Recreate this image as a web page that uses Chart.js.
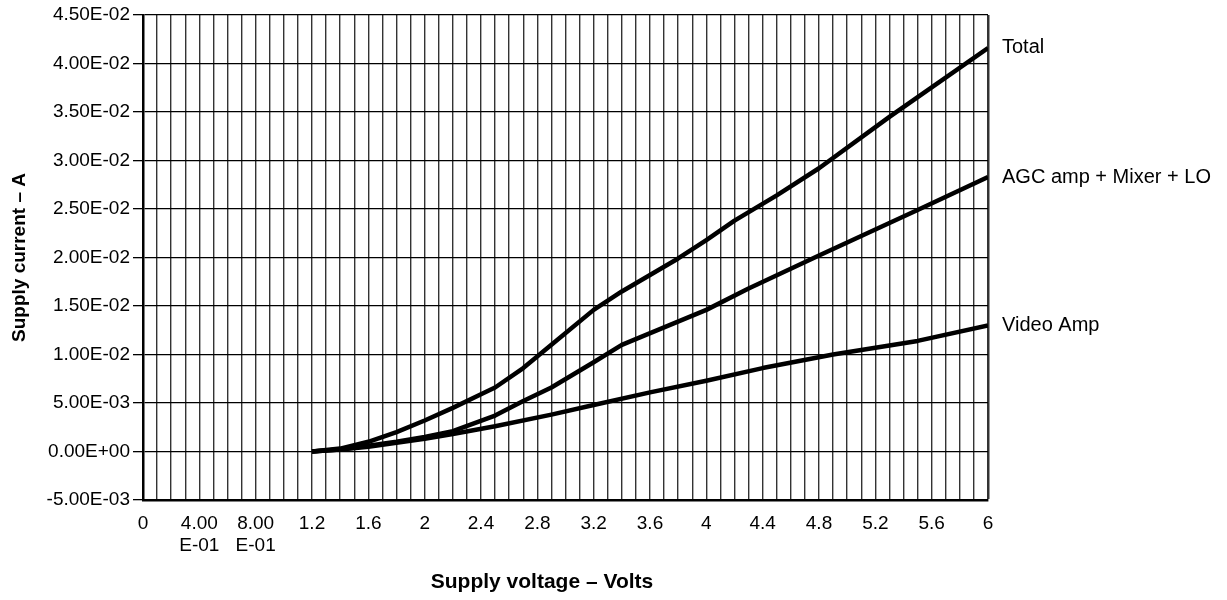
<!DOCTYPE html>
<html>
<head>
<meta charset="utf-8">
<title>Supply current vs supply voltage</title>
<script src="https://cdn.jsdelivr.net/npm/chart.js@4.4.1/dist/chart.umd.min.js"></script>
<style>
  html, body { margin: 0; padding: 0; background: #fff; }
  #wrap { width: 1227px; height: 600px; }
</style>
</head>
<body>
<div id="wrap"><canvas id="currentChart" width="1227" height="600"></canvas></div>
<script>
// values (volts / amps)
const totalVolts = [1.2, 1.4, 1.6, 1.8, 2.0, 2.2, 2.4, 2.5, 2.7, 2.9, 3.2, 3.4, 3.8, 4.0, 4.2, 4.5, 4.8, 5.3, 6.0];
const totalAmps  = [0, 0.0003, 0.0010, 0.0020, 0.0032, 0.0045, 0.0059, 0.0066, 0.0086, 0.0110, 0.0146, 0.0165, 0.0199, 0.0218, 0.0238, 0.0264, 0.0292, 0.0345, 0.0416];

const agcVolts = [1.2, 1.4, 1.6, 1.8, 2.0, 2.2, 2.5, 2.7, 2.9, 3.2, 3.4, 3.7, 4.0, 4.3, 4.8, 5.5, 6.0];
const agcAmps  = [0, 0.0002, 0.0006, 0.0010, 0.0015, 0.0021, 0.0037, 0.0052, 0.0066, 0.0092, 0.0110, 0.0128, 0.0146, 0.0168, 0.0202, 0.0249, 0.0283];

const videoVolts = [1.2, 1.4, 1.6, 1.8, 2.0, 2.2, 2.5, 2.9, 3.2, 3.6, 4.0, 4.4, 4.9, 5.5, 6.0];
const videoAmps  = [0, 0.0002, 0.0005, 0.0009, 0.0013, 0.0018, 0.0026, 0.0038, 0.0048, 0.0061, 0.0073, 0.0086, 0.0100, 0.0114, 0.0130];

const seriesNames = ['Total', 'AGC amp + Mixer + LO', 'Video Amp'];
const xTitle = 'Supply voltage – Volts';

// one label every 4th grid line (0.4 V)
const xTickLabels = ['0', ['4.00', 'E-01'], ['8.00', 'E-01'], '1.2', '1.6', '2', '2.4', '2.8',
                     '3.2', '3.6', '4', '4.4', '4.8', '5.2', '5.6', '6'];
const yTickLabels = ['-5.00E-03', '0.00E+00', '5.00E-03', '1.00E-02', '1.50E-02', '2.00E-02',
                     '2.50E-02', '3.00E-02', '3.50E-02', '4.00E-02', '4.50E-02'];

const FONT = '"Liberation Sans", Arial, Helvetica, sans-serif';

function toPoints(xs, ys) {
    return xs.map((x, i) => ({ x: x, y: ys[i] }));
}

// names written just right of the plot, level with each line's last point,
// plus the x title which sits a little left of the plot centre in the original
const endLabels = {
    id: 'endLabels',
    afterDatasetsDraw(chart) {
        const { ctx, chartArea } = chart;
        ctx.save();
        ctx.font = '20px ' + FONT;
        ctx.fillStyle = '#000';
        ctx.textBaseline = 'middle';
        chart.data.datasets.forEach((ds, i) => {
            const pts = chart.getDatasetMeta(i).data;
            const last = pts[pts.length - 1];
            ctx.fillText(seriesNames[i], chartArea.right + 14, last.y);
        });
        ctx.font = 'bold 21px ' + FONT;
        ctx.textAlign = 'center';
        ctx.fillText(xTitle, 542, 582);
        ctx.restore();
    }
};

const lineStyle = {
    borderColor: '#000',
    borderWidth: 4.5,
    pointRadius: 0,
    fill: false,
    tension: 0,
    borderJoinStyle: 'round'
};

const ctx = document.getElementById('currentChart').getContext('2d');
new Chart(ctx, {
    type: 'line',
    data: {
        datasets: [
            Object.assign({ label: seriesNames[0], data: toPoints(totalVolts, totalAmps) }, lineStyle),
            Object.assign({ label: seriesNames[1], data: toPoints(agcVolts, agcAmps) }, lineStyle),
            Object.assign({ label: seriesNames[2], data: toPoints(videoVolts, videoAmps) }, lineStyle)
        ]
    },
    options: {
        responsive: false,
        animation: false,
        layout: { padding: { top: 15, right: 239, bottom: 0, left: 0 } },
        plugins: {
            legend: { display: false },
            tooltip: { enabled: false }
        },
        scales: {
            x: {
                type: 'linear',
                min: 0,
                max: 6,
                afterFit: (scale) => { scale.height = 100; },
                ticks: {
                    stepSize: 0.1,
                    autoSkip: false,
                    maxRotation: 0,
                    minRotation: 0,
                    color: '#000',
                    padding: 9,
                    font: { family: FONT, size: 19, lineHeight: 1.15 },
                    callback: (value, index) => (index % 4 === 0 ? xTickLabels[index / 4] : '')
                },
                grid: {
                    color: '#333',
                    lineWidth: (c) => (c.index === 60 ? 2.5 : 1.4),
                    tickLength: 4,
                    tickColor: 'rgba(0,0,0,0)'
                },
                border: { color: '#000', width: 2.5 },
                title: { display: false }
            },
            y: {
                min: -0.005,
                max: 0.045,
                afterFit: (scale) => { scale.width = 143; },
                ticks: {
                    stepSize: 0.005,
                    color: '#000',
                    padding: 3,
                    font: { family: FONT, size: 19 },
                    callback: (value, index) => yTickLabels[index]
                },
                grid: {
                    color: '#000',
                    lineWidth: 1.3,
                    tickLength: 10,
                    tickColor: '#000'
                },
                border: { color: '#000', width: 2.5 },
                title: {
                    display: true,
                    text: 'Supply current – A',
                    color: '#000',
                    font: { family: FONT, size: 19, weight: 'bold' },
                    padding: { top: 8, bottom: 0 }
                }
            }
        }
    },
    plugins: [endLabels]
});
</script>
</body>
</html>
